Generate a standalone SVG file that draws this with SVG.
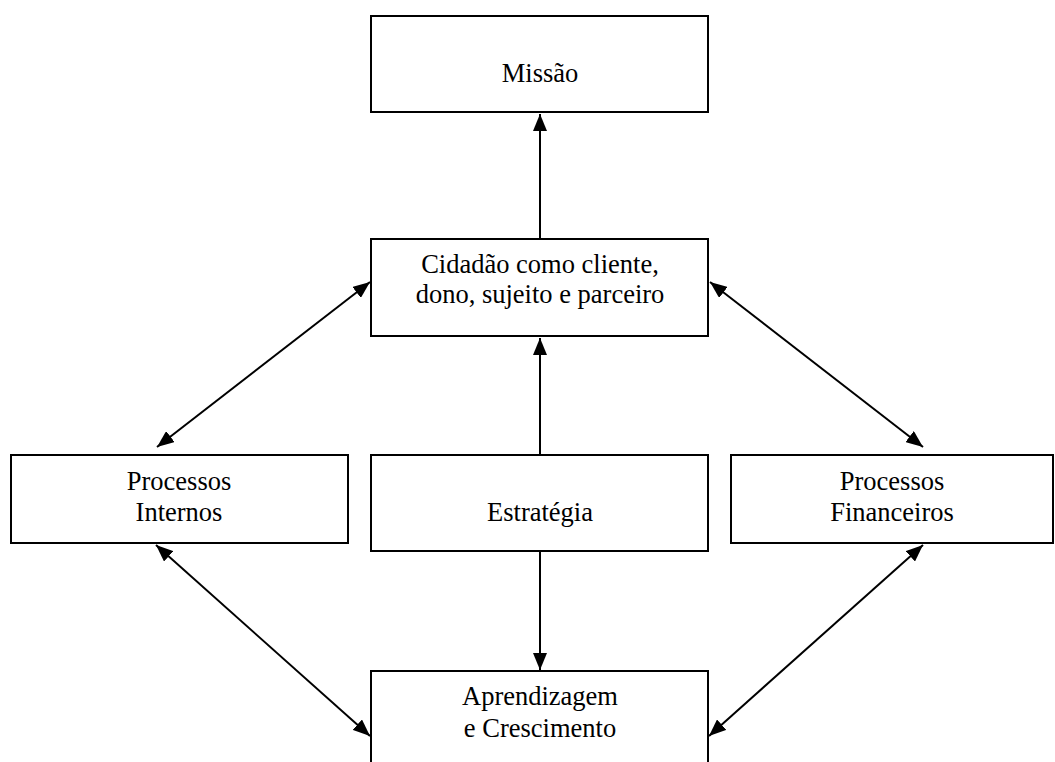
<svg xmlns="http://www.w3.org/2000/svg" width="1055" height="762" viewBox="0 0 1055 762">
  <style>
    .box { fill: #ffffff; stroke: #000000; stroke-width: 2; }
    .lbl { font-family: "Liberation Serif", "Times New Roman", serif; font-size: 26.5px; fill: #000000; text-anchor: middle; }
    .link { stroke: #000000; stroke-width: 2; fill: none; }
  </style>
  <defs>
    <marker id="head" viewBox="0 0 17 14" refX="17" refY="7" markerWidth="17" markerHeight="14" markerUnits="userSpaceOnUse" orient="auto-start-reverse">
      <path d="M0,0 L17,7 L0,14 Z" fill="#000000"/>
    </marker>
  </defs>
  <rect width="1055" height="762" fill="#ffffff"/>

  <g id="connectors">
    <!-- Cidadão → Missão -->
    <line class="link" x1="540" y1="239" x2="540" y2="114" marker-end="url(#head)"/>
    <!-- Estratégia → Cidadão -->
    <line class="link" x1="540" y1="455" x2="540" y2="338" marker-end="url(#head)"/>
    <!-- Estratégia → Aprendizagem -->
    <line class="link" x1="540" y1="551" x2="540" y2="670" marker-end="url(#head)"/>
    <!-- Cidadão ↔ Processos Internos -->
    <line class="link" x1="370" y1="282" x2="157" y2="447" marker-start="url(#head)" marker-end="url(#head)"/>
    <!-- Cidadão ↔ Processos Financeiros -->
    <line class="link" x1="710" y1="282" x2="923" y2="447" marker-start="url(#head)" marker-end="url(#head)"/>
    <!-- Processos Internos ↔ Aprendizagem -->
    <line class="link" x1="156" y1="545" x2="370" y2="736" marker-start="url(#head)" marker-end="url(#head)"/>
    <!-- Processos Financeiros ↔ Aprendizagem -->
    <line class="link" x1="923" y1="545" x2="709" y2="736" marker-start="url(#head)" marker-end="url(#head)"/>
  </g>

  <g id="missao">
    <rect class="box" x="371" y="16" width="337" height="96"/>
    <text class="lbl" x="540" y="82">Missão</text>
  </g>

  <g id="cidadao">
    <rect class="box" x="371" y="239" width="337" height="97"/>
    <text class="lbl" x="540" y="273">Cidadão como cliente,</text>
    <text class="lbl" x="540" y="303">dono, sujeito e parceiro</text>
  </g>

  <g id="processos-internos">
    <rect class="box" x="11" y="455" width="337" height="88"/>
    <text class="lbl" x="179" y="490">Processos</text>
    <text class="lbl" x="179" y="521">Internos</text>
  </g>

  <g id="estrategia">
    <rect class="box" x="371" y="455" width="337" height="96"/>
    <text class="lbl" x="540" y="521">Estratégia</text>
  </g>

  <g id="processos-financeiros">
    <rect class="box" x="731" y="455" width="322" height="88"/>
    <text class="lbl" x="892" y="490">Processos</text>
    <text class="lbl" x="892" y="521">Financeiros</text>
  </g>

  <g id="aprendizagem">
    <rect class="box" x="371" y="671" width="337" height="100"/>
    <text class="lbl" x="540" y="705">Aprendizagem</text>
    <text class="lbl" x="540" y="737">e Crescimento</text>
  </g>
</svg>
